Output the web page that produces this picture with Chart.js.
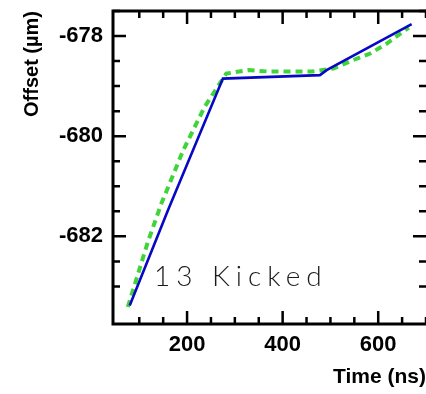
<!DOCTYPE html>
<html>
<head>
<meta charset="utf-8">
<script src="https://cdn.jsdelivr.net/npm/chart.js@4.4.1/dist/chart.umd.min.js"></script>
<style>
html,body{margin:0;padding:0;background:#fff;}
#wrap{width:426px;height:394px;}
</style>
</head>
<body>
<div id="wrap"><canvas id="c" width="426" height="394"></canvas></div>
<script>
// Data
const timeBlue   = [80, 160, 275, 478, 492, 670];
const offsetBlue = [-683.38, -681.48, -678.85, -678.78, -678.68, -677.76];
const timeGreen   = [76, 118, 146, 192, 237, 282, 328, 373, 415, 460, 506, 548, 583, 618, 664];
const offsetGreen = [-683.41, -682.11, -681.35, -680.28, -679.41, -678.75, -678.68, -678.71, -678.71, -678.71, -678.65, -678.48, -678.35, -678.15, -677.83];
const xMajorTicks = [200, 400, 600];
const yMajorTicks = [-678, -680, -682];
const annotation = '13 Kicked';

const toPts = (xs, ys) => xs.map((x, i) => ({x: x, y: ys[i]}));

const framePlugin = {
  id: 'frame',
  afterDatasetsDraw(chart) {
    const ctx = chart.ctx, a = chart.chartArea;
    const xs = chart.scales.x, ys = chart.scales.y;
    ctx.save();
    ctx.strokeStyle = '#000';
    ctx.lineCap = 'butt';
    ctx.lineWidth = 2.5;
    xs.ticks.forEach(t => {
      const v = t.value;
      if (Math.abs(v / 50 - Math.round(v / 50)) > 1e-6) return;
      const p = xs.getPixelForValue(v);
      const len = xMajorTicks.includes(v) ? 13 : 7;
      ctx.beginPath();
      ctx.moveTo(p, a.bottom); ctx.lineTo(p, a.bottom - len);
      ctx.moveTo(p, a.top); ctx.lineTo(p, a.top + len);
      ctx.stroke();
    });
    ys.ticks.forEach(t => {
      const v = t.value;
      if (Math.abs(v / 0.5 - Math.round(v / 0.5)) > 1e-6) return;
      const p = ys.getPixelForValue(v);
      const len = yMajorTicks.includes(Math.round(v * 100) / 100) ? 13 : 7;
      ctx.beginPath();
      ctx.moveTo(a.left, p); ctx.lineTo(a.left + len, p);
      ctx.moveTo(a.right, p); ctx.lineTo(a.right - len, p);
      ctx.stroke();
    });
    ctx.lineWidth = 3;
    ctx.strokeRect(a.left, a.top, a.right - a.left + 2, a.bottom - a.top);
    // annotation text
    ctx.fillStyle = '#1a1a1a';
    ctx.font = '300 28px Lato, "Open Sans", sans-serif';
    ctx.letterSpacing = '6px';
    ctx.textBaseline = 'alphabetic';
    ctx.textAlign = 'left';
    ctx.fillText(annotation, 154, 286);
    ctx.restore();
  }
};

const noPad = s => { s.paddingTop = 0; s.paddingBottom = 0; s.paddingLeft = 0; s.paddingRight = 0; };

new Chart(document.getElementById('c'), {
  type: 'scatter',
  data: {
    datasets: [
      {
        label: 'measured',
        data: toPts(timeBlue, offsetBlue),
        showLine: true,
        borderColor: '#0808c4',
        borderWidth: 2.6,
        pointRadius: 0,
        tension: 0
      },
      {
        label: 'fit',
        data: toPts(timeGreen, offsetGreen),
        showLine: true,
        borderColor: '#3fd43a',
        borderWidth: 4,
        borderDash: [7, 5],
        pointRadius: 0,
        tension: 0
      }
    ]
  },
  plugins: [framePlugin],
  options: {
    responsive: false,
    animation: false,
    layout: {padding: {left: 0, right: 0, top: 11, bottom: 0}},
    plugins: {legend: {display: false}, tooltip: {enabled: false}},
    scales: {
      x: {
        type: 'linear',
        min: 45, max: 700,
        grid: {display: false, drawTicks: false},
        border: {display: false},
        ticks: {
          stepSize: 50, maxTicksLimit: 100, autoSkip: false, maxRotation: 0,
          padding: 8,
          color: '#000',
          font: {family: '"Liberation Sans", Arial, sans-serif', size: 22, weight: 'bold'},
          callback: v => xMajorTicks.includes(v) ? String(v) : ''
        },
        title: {
          display: true, text: 'Time (ns)', align: 'end', color: '#000',
          font: {family: '"Liberation Sans", Arial, sans-serif', size: 21, weight: 'bold'},
          padding: {top: 0, bottom: 4}
        },
        afterFit: s => { s.height = 70; noPad(s); }
      },
      y: {
        type: 'linear',
        min: -683.75, max: -677.5,
        grid: {display: false, drawTicks: false},
        border: {display: false},
        ticks: {
          stepSize: 0.5, maxTicksLimit: 100, autoSkip: false,
          padding: 10,
          color: '#000',
          font: {family: '"Liberation Sans", Arial, sans-serif', size: 22, weight: 'bold'},
          callback: v => yMajorTicks.includes(Math.round(v * 100) / 100) ? String(v) : ''
        },
        title: {
          display: true, text: 'Offset (µm)', align: 'end', color: '#000',
          font: {family: '"Liberation Sans", Arial, sans-serif', size: 20, weight: 'bold'},
          padding: {top: 20, bottom: 0}
        },
        afterFit: s => { s.width = 113; noPad(s); }
      }
    }
  }
});
</script>
</body>
</html>
